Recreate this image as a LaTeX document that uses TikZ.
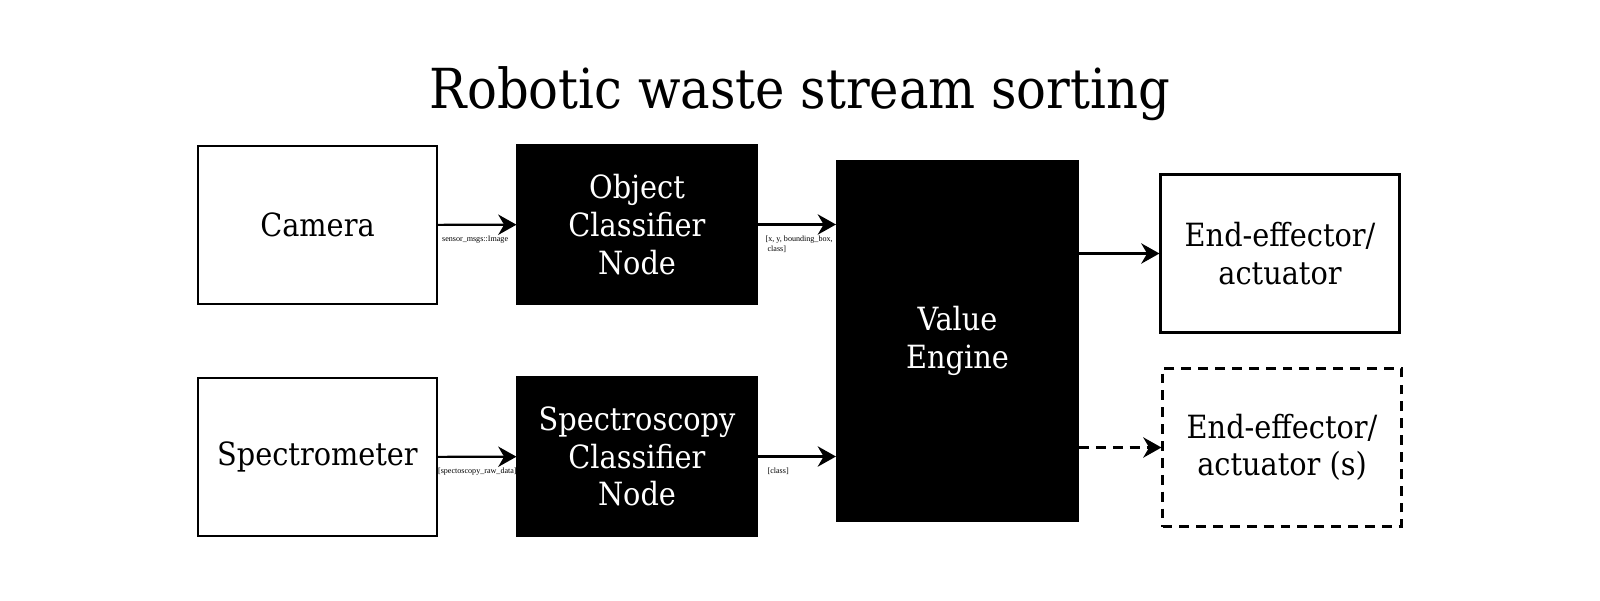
\documentclass[tikz,border=0pt]{standalone}
\usepackage{fontspec}
\setmainfont{DejaVu Serif Condensed}
\newfontfamily\msgfont{Liberation Serif}
\usetikzlibrary{arrows.meta}
\tikzstyle{block}=[rectangle,
                   minimum width=2.39cm,
                   minimum height=1.58cm,
                   draw=black,
                   line width=0.6pt,
                   inner sep=0pt,
                   align=center,
                   font=\fontsize{9.1}{10.7}\selectfont, ]
\tikzstyle{block_dark}=[block, fill=black, text=white, ]
\tikzstyle{block_dashed}=[block, dash pattern=on 2.8pt off 2pt, ]
\tikzstyle{flow}=[line width=0.6pt,
                  -{Stealth[length=5.2pt, width=5.8pt]}, ]
\tikzstyle{msg}=[inner sep=0pt,
                 align=left,
                 font=\msgfont\fontsize{2.3}{2.8}\selectfont, ]

\begin{document}
\begin{tikzpicture}
    \useasboundingbox (0cm, 0cm) rectangle (16cm, 6cm);
    \node at (8cm, 4.91cm) (title) [anchor=base, font=\fontsize{15.7}{18}\selectfont] {Robotic waste stream sorting};

    \foreach \n/\y/\txt in {camera/3.75/Camera, spectrometer/1.43/Spectrometer} {
      \node at (3.175cm, \y cm) (\n) [block] {\txt};
    }
    \node at (6.37cm, 3.755cm) (object_cls) [block_dark] {Object\\Classifier\\Node};
    \node at (6.37cm, 1.435cm) (spectro_cls) [block_dark] {Spectroscopy\\Classifier\\Node};
    \node at (9.575cm, 2.59cm) (value_engine) [block_dark, minimum width=2.41cm, minimum height=3.6cm] {Value\\Engine};
    \node at (12.8cm, 3.465cm) (actuator) [block] {End-effector/\\actuator};
    \node at (12.82cm, 1.525cm) (actuators) [block_dashed] {End-effector/\\actuator (s)};

    \draw[flow] (camera) -- node[msg, pos=0, anchor=north west, xshift=0.03cm, yshift=-0.1cm] {sensor\_msgs::Image} (object_cls);
    \draw[flow] (spectrometer) -- node[msg, pos=0, anchor=north west, xshift=-0.01cm, yshift=-0.1cm] {[spectoscopy\_raw\_data]} (spectro_cls);
    \draw[flow] (object_cls.east) -- node[msg, pos=0, anchor=north west, xshift=0.07cm, yshift=-0.1cm] {[x, y, bounding\_box,\\~class]} (object_cls.east -| value_engine.west);
    \draw[flow] (spectro_cls.east) -- node[msg, pos=0, anchor=north west, xshift=0.09cm, yshift=-0.1cm] {[class]} (spectro_cls.east -| value_engine.west);
    \draw[flow] (value_engine.east |- actuator.west) -- (actuator.west);
    \draw[flow, dash pattern=on 2.8pt off 2pt] (value_engine.east |- actuators.west) -- (actuators.west);
\end{tikzpicture}
\end{document}
